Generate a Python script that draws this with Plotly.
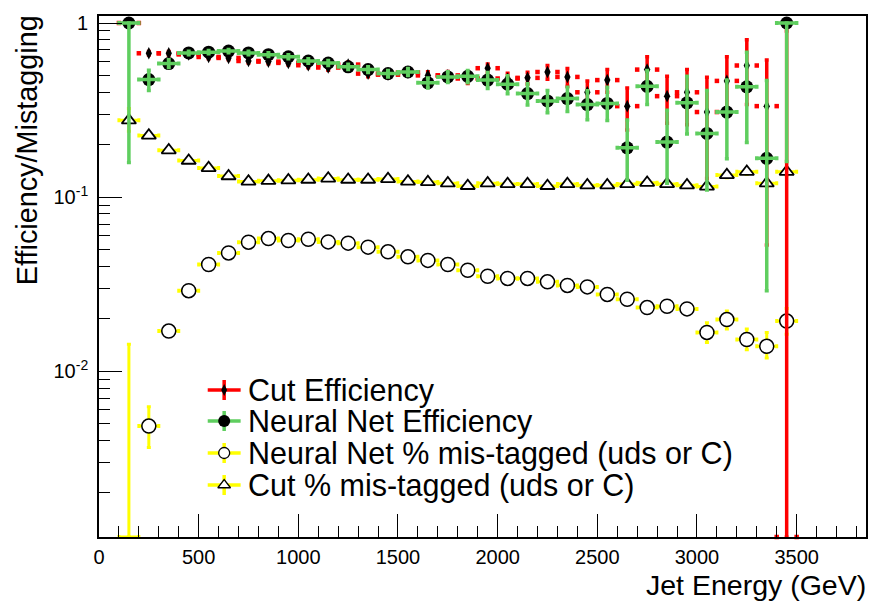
import math
import plotly.graph_objects as go

# ---------------- data ----------------
energy_gev = [150, 250, 350, 450, 550, 650, 750, 850, 950, 1050, 1150, 1250,
              1350, 1450, 1550, 1650, 1750, 1850, 1950, 2050, 2150, 2250,
              2350, 2450, 2550, 2650, 2750, 2850, 2950, 3050, 3150, 3250,
              3350, 3450]
bin_half_width_gev = 50

cut_eff = [1.0, 0.670, 0.670, 0.660, 0.638, 0.630, 0.605, 0.600, 0.590, 0.572,
           0.555, 0.577, 0.512, 0.505, 0.520, 0.500, 0.500, 0.480, 0.550, 0.480,
           0.484, 0.523, 0.490, 0.400, 0.470, 0.333, 0.540, 0.380, 0.400, 0.308,
           0.465, 0.570, 0.333, 0.0]
cut_eff_err = [0.0, 0.015, 0.015, 0.015, 0.015, 0.015, 0.016, 0.016, 0.017, 0.018,
               0.019, 0.020, 0.021, 0.022, 0.024, 0.025, 0.027, 0.030, 0.032, 0.035,
               0.038, 0.047, 0.057, 0.065, 0.070, 0.090, 0.100, 0.114, 0.140, 0.180,
               0.175, 0.230, 0.280, 0.900]

nn_eff = [1.0, 0.473, 0.585, 0.673, 0.680, 0.690, 0.673, 0.658, 0.640, 0.605,
          0.589, 0.560, 0.540, 0.512, 0.523, 0.453, 0.490, 0.494, 0.470, 0.445,
          0.393, 0.357, 0.368, 0.340, 0.345, 0.192, 0.433, 0.207, 0.348, 0.232,
          0.308, 0.430, 0.167, 1.0]
nn_eff_err_plus = [0.0, 0.062, 0.030, 0.015, 0.015, 0.015, 0.016, 0.016, 0.017, 0.018,
                   0.019, 0.020, 0.021, 0.022, 0.024, 0.030, 0.035, 0.040, 0.050, 0.053,
                   0.055, 0.052, 0.060, 0.068, 0.082, 0.085, 0.100, 0.108, 0.146, 0.178,
                   0.162, 0.250, 0.300, 0.0]
nn_eff_err_minus = [0.842, 0.063, 0.030, 0.015, 0.015, 0.015, 0.016, 0.016, 0.017, 0.018,
                    0.019, 0.020, 0.021, 0.022, 0.024, 0.030, 0.035, 0.040, 0.050, 0.053,
                    0.055, 0.052, 0.058, 0.062, 0.070, 0.067, 0.093, 0.087, 0.118, 0.122,
                    0.142, 0.224, 0.138, 0.840]

nn_mistag = [0.0, 0.00484, 0.0170, 0.0290, 0.0410, 0.0478, 0.0551, 0.0578, 0.0563,
             0.0573, 0.0553, 0.0544, 0.0516, 0.0485, 0.0454, 0.0433, 0.0410, 0.0380,
             0.0351, 0.0341, 0.0341, 0.0326, 0.0311, 0.0305, 0.0276, 0.0259, 0.0232,
             0.0236, 0.0228, 0.0167, 0.0198, 0.0152, 0.0139, 0.0194]
nn_mistag_err_plus = [0.0143, 0.0014, 0.0008, 0.0010, 0.0012, 0.0013, 0.0014, 0.0014,
                      0.0014, 0.0014, 0.0014, 0.0014, 0.0014, 0.0014, 0.0014, 0.0014,
                      0.0014, 0.0014, 0.0014, 0.0014, 0.0014, 0.0014, 0.0014, 0.0014,
                      0.0014, 0.0014, 0.0014, 0.0015, 0.0016, 0.0023, 0.0024, 0.0023,
                      0.0028, 0.0035]
nn_mistag_err_minus = [0.0, 0.0012, 0.0008, 0.0010, 0.0012, 0.0013, 0.0014, 0.0014,
                       0.0014, 0.0014, 0.0014, 0.0014, 0.0014, 0.0014, 0.0014, 0.0014,
                       0.0014, 0.0014, 0.0014, 0.0014, 0.0014, 0.0014, 0.0014, 0.0014,
                       0.0014, 0.0014, 0.0014, 0.0015, 0.0016, 0.0021, 0.0023, 0.0019,
                       0.0020, 0.0031]

cut_mistag = [0.276, 0.226, 0.186, 0.162, 0.147, 0.132, 0.123, 0.124, 0.125, 0.126,
              0.128, 0.126, 0.126, 0.127, 0.123, 0.122, 0.120, 0.116, 0.120, 0.119,
              0.119, 0.116, 0.119, 0.117, 0.117, 0.119, 0.121, 0.119, 0.117, 0.115,
              0.134, 0.140, 0.120, 0.140]
cut_mistag_err_plus = [0.047, 0.006, 0.005, 0.004, 0.004, 0.003, 0.003, 0.003, 0.003,
                       0.003, 0.003, 0.003, 0.003, 0.003, 0.003, 0.003, 0.003, 0.003,
                       0.003, 0.003, 0.003, 0.003, 0.003, 0.003, 0.003, 0.003, 0.003,
                       0.003, 0.003, 0.004, 0.005, 0.005, 0.005, 0.006]
cut_mistag_err_minus = [0.037, 0.006, 0.005, 0.004, 0.004, 0.003, 0.003, 0.003, 0.003,
                        0.003, 0.003, 0.003, 0.003, 0.003, 0.003, 0.003, 0.003, 0.003,
                        0.003, 0.003, 0.003, 0.003, 0.003, 0.003, 0.003, 0.003, 0.003,
                        0.003, 0.003, 0.004, 0.005, 0.005, 0.005, 0.006]

legend_labels = ["Cut Efficiency", "Neural Net Efficiency",
                 "Neural Net % mis-tagged (uds or C)", "Cut % mis-tagged (uds or C)"]

x_axis_title = "Jet Energy (GeV)"
y_axis_title = "Efficiency/Mistagging"
y_tick_values = [0.01, 0.1, 1]
y_tick_labels = ["10<sup>-2</sup>", "10<sup>-1</sup>", "1"]

# ---------------- styling ----------------
FONT = "Liberation Sans, Arial, Helvetica, sans-serif"
RED = "#ff0000"
GREEN = "#5fce5f"
YELLOW = "#ffff00"
W, H = 871, 603
ML, MR, MT, MB = 99, 3, 16, 66
X_RANGE = [0, 3848]
Y_LOG_RANGE = [-2.9523, 0.0402]
Y_FLOOR = 10 ** Y_LOG_RANGE[0]


def floored(vals):
    return [v if v > 0 else Y_FLOOR for v in vals]


def only_positive(vals):
    return [v if v > 0 else None for v in vals]


def adj_minus(vals, minus):
    # error towards the floor for points clipped at the bottom
    return [m if v > 0 else 0 for v, m in zip(vals, minus)]


def adj_plus(vals, plus):
    return [p if v > 0 else p + v - Y_FLOOR for v, p in zip(vals, plus)]


fig = go.Figure()

def err_trace(y, plus, minus, color, thick, cap, xerr=True):
    return go.Scatter(
        x=energy_gev, y=y, mode="markers",
        marker=dict(size=1, opacity=0),
        error_y=dict(type="data", symmetric=False, array=plus, arrayminus=minus,
                     color=color, thickness=thick, width=cap),
        error_x=dict(type="constant", value=bin_half_width_gev if xerr else 0,
                     color=color, thickness=thick, width=cap, visible=xerr),
        showlegend=False, hoverinfo="skip")

# NN mis-tag (open circles, yellow bars)
fig.add_trace(err_trace(floored(nn_mistag), adj_plus(nn_mistag, nn_mistag_err_plus),
                        adj_minus(nn_mistag, nn_mistag_err_minus), YELLOW, 3, 2))
fig.add_trace(go.Scatter(x=energy_gev, y=only_positive(nn_mistag), mode="markers",
                         marker=dict(symbol="circle", size=14, color="white",
                                     line=dict(color="black", width=1.5)),
                         showlegend=False))
# Cut mis-tag (open triangles, yellow bars)
fig.add_trace(err_trace(cut_mistag, cut_mistag_err_plus, cut_mistag_err_minus, YELLOW, 3, 2))
fig.add_trace(go.Scatter(x=energy_gev, y=cut_mistag, mode="markers",
                         marker=dict(symbol="triangle-up", size=12.5, color="white",
                                     line=dict(color="black", width=1.8)),
                         showlegend=False))
# Cut efficiency: red vertical bars + red end stubs, black diamonds
fig.add_trace(err_trace(floored(cut_eff), adj_plus(cut_eff, cut_eff_err),
                        adj_minus(cut_eff, cut_eff_err), RED, 3.5, 2, xerr=False))
stub_x, stub_y = [], []
for e, v in zip(energy_gev, cut_eff):
    yy = v if v > 0 else Y_FLOOR
    stub_x += [e - bin_half_width_gev, e + bin_half_width_gev]
    stub_y += [yy, yy]
fig.add_trace(go.Scatter(x=stub_x, y=stub_y, mode="markers",
                         marker=dict(symbol="square", size=4.5, color=RED),
                         showlegend=False, hoverinfo="skip", cliponaxis=False))
fig.add_trace(go.Scatter(x=energy_gev, y=only_positive(cut_eff), mode="markers",
                         marker=dict(symbol="diamond-tall", size=9, color="black"),
                         showlegend=False))
# NN efficiency: black circles, green bars drawn on top
fig.add_trace(go.Scatter(x=energy_gev, y=nn_eff, mode="markers",
                         marker=dict(symbol="circle", size=13, color="black"),
                         showlegend=False))
fig.add_trace(err_trace(nn_eff, nn_eff_err_plus, nn_eff_err_minus, GREEN, 3.5, 2))

# ---------------- custom legend on a pixel-coordinate overlay ----------------
leg_rows_px = [390, 421, 453, 485]
leg_x_px = 224.5
leg_text_x_px = 246
leg_styles = [
    (RED, dict(symbol="diamond-tall", size=8.5, color="black")),
    (GREEN, dict(symbol="circle", size=12, color="black")),
    (YELLOW, dict(symbol="circle", size=11, color="white", line=dict(color="black", width=1.3))),
    (YELLOW, dict(symbol="triangle-up", size=11, color="white", line=dict(color="black", width=1.3))),
]
for row_y, label, (col, mk) in zip(leg_rows_px, legend_labels, leg_styles):
    fig.add_trace(go.Scatter(
        x=[leg_x_px], y=[row_y], xaxis="x2", yaxis="y2", mode="markers",
        marker=mk, showlegend=False, hoverinfo="skip",
        error_x=dict(type="constant", value=16.5, color=col, thickness=3.5, width=0),
        error_y=dict(type="constant", value=10, color=col, thickness=3.5, width=0)))
    fig.add_annotation(x=leg_text_x_px, y=row_y, xref="x2", yref="y2", text=label,
                       showarrow=False, xanchor="left", yanchor="middle",
                       font=dict(family=FONT, size=30.5, color="black"))

plot_w = W - ML - MR
plot_h = H - MT - MB

def px_to_paper_x(px):
    return (px - ML) / plot_w

def px_to_paper_y(py):
    return (H - MB - py) / plot_h

fig.add_annotation(x=px_to_paper_x(870), y=px_to_paper_y(585), xref="paper", yref="paper",
                   text=x_axis_title, showarrow=False, xanchor="right", yanchor="middle",
                   font=dict(family=FONT, size=28.5, color="black"))
fig.add_annotation(x=px_to_paper_x(27), y=px_to_paper_y(13), xref="paper", yref="paper",
                   text=y_axis_title, showarrow=False, xanchor="center", yanchor="top",
                   textangle=-90, font=dict(family=FONT, size=28.8, color="black"))

minor_y = [m * 10 ** d for d in (-3, -2, -1) for m in range(2, 10)]

fig.update_layout(
    width=W, height=H, margin=dict(l=ML, r=MR, t=MT, b=MB),
    paper_bgcolor="white", plot_bgcolor="white", showlegend=False,
    font=dict(family=FONT, size=20, color="black"),
    xaxis=dict(range=X_RANGE, showgrid=False, zeroline=False, showline=True,
               linecolor="black", linewidth=1.6, mirror=True,
               ticks="inside", ticklen=23, tickwidth=1.3, tickcolor="black",
               tickmode="linear", tick0=0, dtick=500, ticklabelstandoff=1,
               tickfont=dict(family=FONT, size=20, color="black"),
               minor=dict(ticks="inside", ticklen=11, tickwidth=1.3, tickcolor="black",
                          tickmode="linear", tick0=0, dtick=100, showgrid=False)),
    yaxis=dict(type="log", range=Y_LOG_RANGE, showgrid=False, zeroline=False,
               showline=True, linecolor="black", linewidth=1.6, mirror=True,
               ticks="inside", ticklen=23, tickwidth=1.3, tickcolor="black",
               tickmode="array", tickvals=y_tick_values, ticktext=y_tick_labels,
               ticklabelstandoff=5,
               tickfont=dict(family=FONT, size=20, color="black"),
               minor=dict(ticks="inside", ticklen=11, tickwidth=1.3, tickcolor="black",
                          tickmode="array", tickvals=minor_y, showgrid=False)),
    xaxis2=dict(overlaying="x", range=[ML, W - MR], visible=False, fixedrange=True),
    yaxis2=dict(overlaying="y", range=[H - MB, MT], visible=False, fixedrange=True),
)

fig.write_html("out.html")
